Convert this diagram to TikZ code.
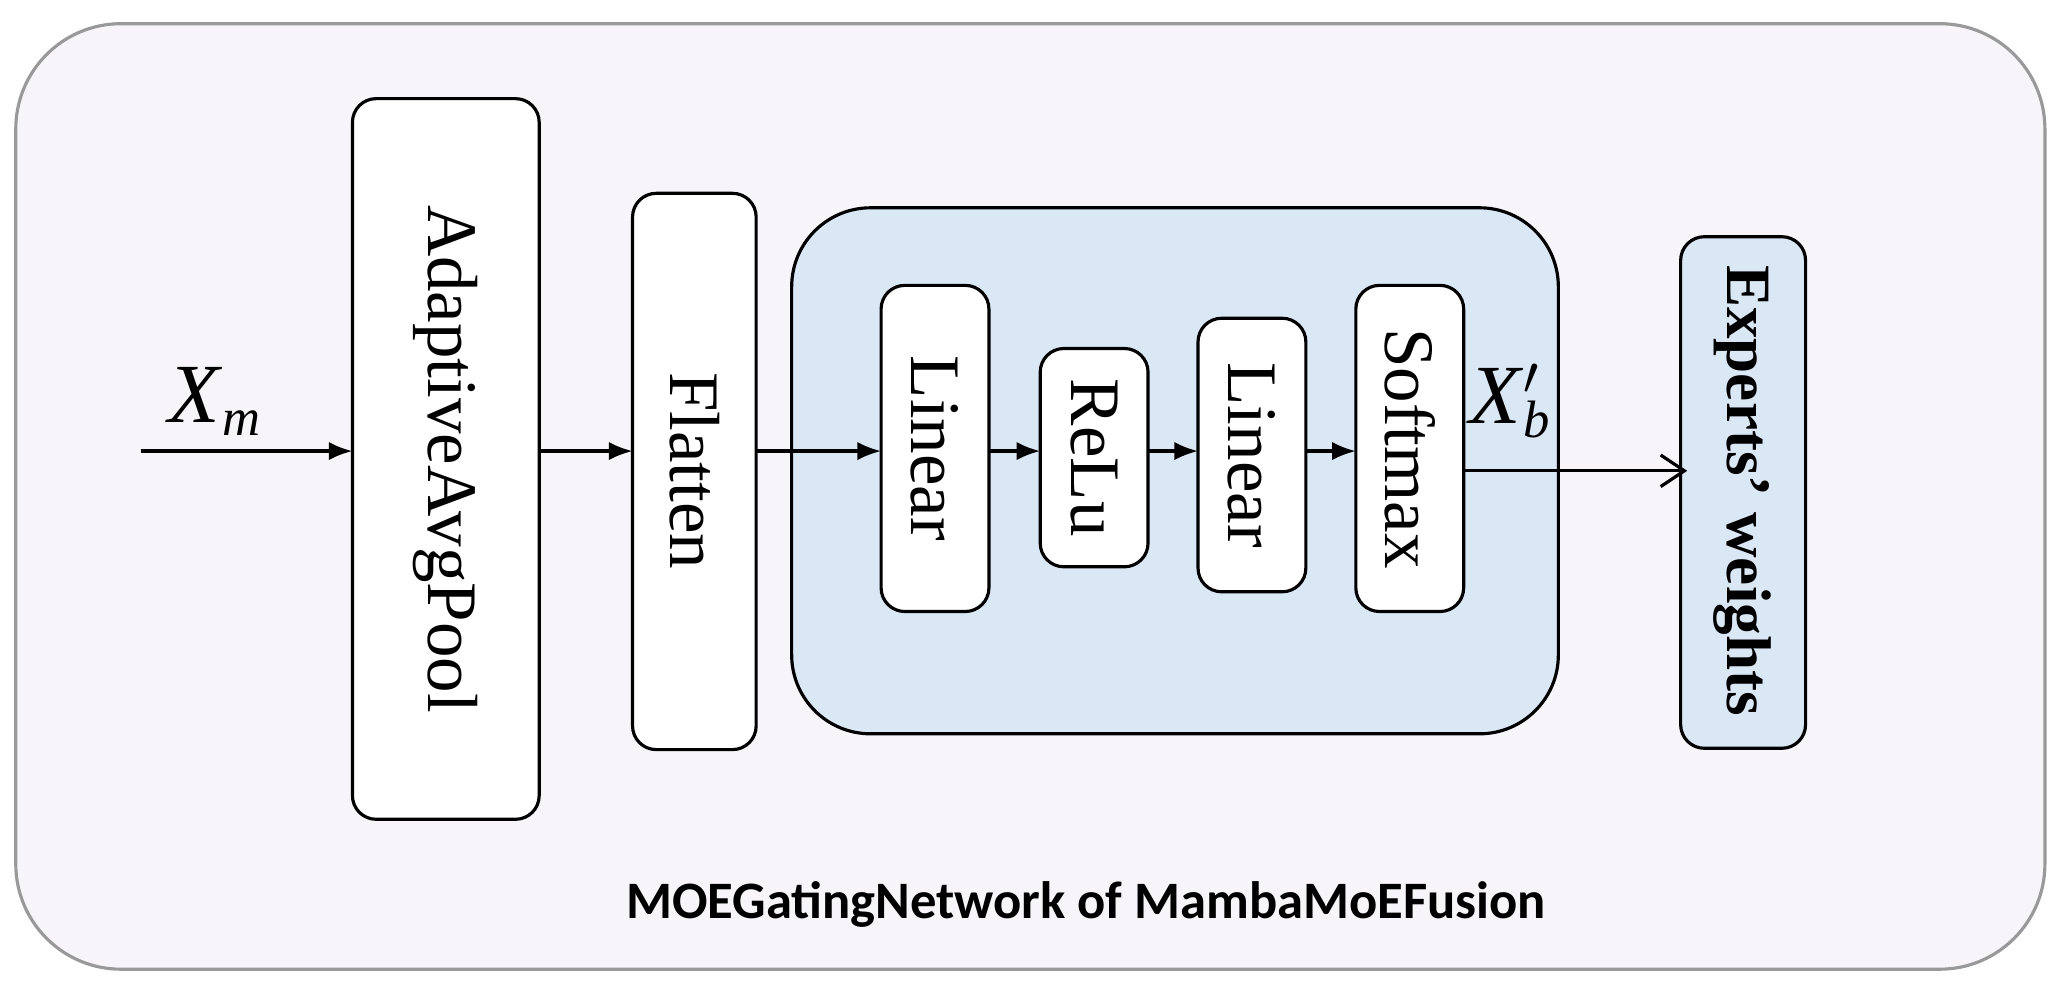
\documentclass[tikz,border=0pt]{standalone}
\usepackage{fontspec}
\setmainfont{Liberation Serif}
\newfontfamily\titlefont{Carlito}
\usetikzlibrary{arrows.meta}
\definecolor{bgc}{HTML}{F7F5F9}
\definecolor{bluec}{HTML}{DAE8F5}
\begin{document}
\begin{tikzpicture}[x=0.5pt,y=-0.5pt,
  blk/.style={draw=black,line width=1.2pt,rounded corners=9pt,fill=white},
  lbl/.style={rotate=-90,font=\fontsize{27}{30}\selectfont},
  arr/.style={-{Latex[length=9pt,width=7pt]},line width=1.2pt}]
\useasboundingbox (0,0) rectangle (1568,751);
\draw[fill=bgc,draw=gray!80,line width=1.2pt,rounded corners=40pt] (12,18) rectangle (1555,737);
\draw[blk] (268,75) rectangle (410,623);
\node[lbl] (aap) at (339,349) {AdaptiveAvgPool};
\draw[blk] (481,147) rectangle (575,570);
\node[lbl] (fl) at (528,358) {Flatten};
\draw[fill=bluec,draw=black,line width=1.2pt,rounded corners=30pt] (602,158) rectangle (1185,558);
\draw[blk] (670,217) rectangle (752,465);
\node[lbl] (l1) at (711,341) {Linear};
\draw[blk] (791,265) rectangle (873,431);
\node[lbl] (re) at (832,348) {ReLu};
\draw[blk] (911,242) rectangle (993,450);
\node[lbl] (l2) at (952,346) {Linear};
\draw[blk] (1031,217) rectangle (1113,465);
\node[lbl] (sm) at (1072,341) {Softmax};
\draw[blk,fill=bluec] (1278,180) rectangle (1373,569);
\node[lbl,font=\fontsize{24}{28}\selectfont\bfseries] (ew) at (1325,373) {Experts’ weights};
\coordinate (in) at (107,343);
\coordinate (aapL) at (268,343); \coordinate (aapR) at (410,343);
\coordinate (flL) at (481,343); \coordinate (flR) at (575,343);
\coordinate (l1L) at (670,343); \coordinate (l1R) at (752,343);
\coordinate (reL) at (791,343); \coordinate (reR) at (873,343);
\coordinate (l2L) at (911,343); \coordinate (l2R) at (993,343);
\coordinate (smL) at (1031,343); \coordinate (smR) at (1113,358);
\coordinate (ewL) at (1283,358);
\draw[arr] (in) -- (aapL);
\draw[arr] (aapR) -- (flL);
\draw[arr] (flR) -- (l1L);
\draw[arr] (l1R) -- (reL);
\draw[arr] (reR) -- (l2L);
\draw[arr] (l2R) -- (smL);
\draw[-{Straight Barb[length=9pt,width=12pt]},line width=1.2pt] (smR) -- (ewL);
\node[font=\fontsize{32}{34}\selectfont] (xm) at (163,305) {\textit{X}\raisebox{-5pt}{\fontsize{20}{22}\selectfont\textit{m}}};
\node[font=\fontsize{32}{34}\selectfont] (xb) at (1148,305) {\textit{X}\raisebox{11pt}{\fontsize{22}{22}\selectfont$\prime$}\kern-6pt\raisebox{-5pt}{\fontsize{20}{22}\selectfont\textit{b}}};
\node[font=\titlefont\bfseries\fontsize{20}{24}\selectfont] (t) at (826,688) {MOEGatingNetwork of MambaMoEFusion};
\end{tikzpicture}
\end{document}
